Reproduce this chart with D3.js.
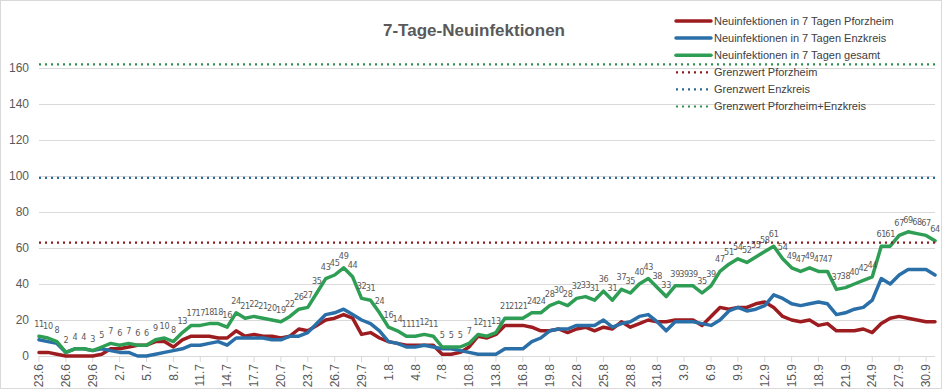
<!DOCTYPE html>
<html>
<head>
<meta charset="utf-8">
<script src="https://cdn.jsdelivr.net/npm/d3@7"></script>
<style>
  body { margin: 0; background: #fff; }
  svg { display: block; }
</style>
</head>
<body>
<div id="chart"></div>
<script>
// Categories: one point per day, 23.6 to 1.10
const days = [
  '23.6','24.6','25.6','26.6','27.6','28.6','29.6','30.6',
  '1.7','2.7','3.7','4.7','5.7','6.7','7.7','8.7','9.7','10.7','11.7','12.7','13.7','14.7','15.7','16.7',
  '17.7','18.7','19.7','20.7','21.7','22.7','23.7','24.7','25.7','26.7','27.7','28.7','29.7','30.7','31.7',
  '1.8','2.8','3.8','4.8','5.8','6.8','7.8','8.8','9.8','10.8','11.8','12.8','13.8','14.8','15.8','16.8',
  '17.8','18.8','19.8','20.8','21.8','22.8','23.8','24.8','25.8','26.8','27.8','28.8','29.8','30.8','31.8',
  '1.9','2.9','3.9','4.9','5.9','6.9','7.9','8.9','9.9','10.9','11.9','12.9','13.9','14.9','15.9','16.9',
  '17.9','18.9','19.9','20.9','21.9','22.9','23.9','24.9','25.9','26.9','27.9','28.9','29.9','30.9',
  '1.10'
];

const pforzheim = [
  2, 2, 1, 0, 0, 0, 0, 1, 4, 4, 5, 6, 6, 8, 8, 5, 9, 11, 11, 11,
  10, 10, 14, 11, 12, 11, 11, 10, 11, 15, 14, 17, 20, 21, 23, 21, 12, 13, 10, 8,
  7, 6, 6, 6, 6, 1, 1, 2, 5, 11, 10, 12, 17, 17, 17, 16, 14, 14, 15, 13,
  15, 16, 14, 16, 15, 19, 16, 18, 20, 19, 19, 20, 20, 20, 17, 22, 27, 26, 27, 27,
  29, 30, 27, 22, 20, 19, 20, 17, 18, 14, 14, 14, 15, 13, 18, 21, 22, 21, 20, 19,
  19
];

const enzkreis = [
  9, 8, 7, 2, 4, 4, 3, 4, 3, 2, 2, 0, 0, 1, 2, 3, 4, 6, 6, 7,
  8, 6, 10, 10, 10, 10, 9, 9, 11, 11, 13, 18, 23, 24, 26, 23, 20, 18, 14, 8,
  7, 5, 5, 6, 5, 4, 4, 3, 2, 1, 1, 1, 4, 4, 4, 8, 10, 14, 15, 15,
  17, 17, 17, 20, 16, 18, 19, 22, 23, 19, 14, 19, 19, 19, 18, 17, 20, 25, 27, 25,
  26, 28, 34, 32, 29, 28, 29, 30, 29, 23, 24, 26, 27, 31, 43, 40, 45, 48, 48, 48,
  45
];

const gesamt = [
  11, 10, 8, 2, 4, 4, 3, 5, 7, 6, 7, 6, 6, 9, 10, 8, 13, 17, 17, 18,
  18, 16, 24, 21, 22, 21, 20, 19, 22, 26, 27, 35, 43, 45, 49, 44, 32, 31, 24, 16,
  14, 11, 11, 12, 11, 5, 5, 5, 7, 12, 11, 13, 21, 21, 21, 24, 24, 28, 30, 28,
  32, 33, 31, 36, 31, 37, 35, 40, 43, 38, 33, 39, 39, 39, 35, 39, 47, 51, 54, 52,
  55, 58, 61, 54, 49, 47, 49, 47, 47, 37, 38, 40, 42, 44, 61, 61, 67, 69, 68, 67,
  64
];

const grenzwertPforzheim = 63;
const grenzwertEnzkreis = 99;
const grenzwertGesamt = 162;

const yTicks = [0, 20, 40, 60, 80, 100, 120, 140, 160];

const W = 942, H = 389;
const margin = { left: 39, right: 7, top: 20, bottom: 33 };

const svg = d3.select('#chart').append('svg')
  .attr('width', W)
  .attr('height', H)
  .style('font-family', "'Liberation Sans', Arial, sans-serif");

svg.append('rect')
  .attr('x', 0.5).attr('y', 0.5)
  .attr('width', W - 1).attr('height', H - 1)
  .attr('fill', '#fff')
  .attr('stroke', '#d9d9d9');

const x = d3.scalePoint()
  .domain(days)
  .range([margin.left, W - margin.right]);

const y = d3.scaleLinear()
  .domain([0, 160])
  .range([356, 68]);

// gridlines + y labels
const grid = svg.append('g');
yTicks.forEach(t => {
  grid.append('line')
    .attr('x1', margin.left).attr('x2', W - margin.right)
    .attr('y1', Math.round(y(t)) + 0.5).attr('y2', Math.round(y(t)) + 0.5)
    .attr('stroke', '#d9d9d9').attr('stroke-width', 1);
  grid.append('text')
    .attr('x', 29)
    .attr('y', y(t))
    .attr('dy', '0.35em')
    .attr('text-anchor', 'end')
    .attr('fill', '#595959')
    .attr('font-size', '12px')
    .text(t);
});

// x axis ticks + rotated labels, every third day
const xAxisG = svg.append('g');
days.forEach((d, i) => {
  if (i % 3 !== 0) return;
  const px = x(d);
  xAxisG.append('line')
    .attr('x1', px).attr('x2', px)
    .attr('y1', 356).attr('y2', 362)
    .attr('stroke', '#d9d9d9');
  xAxisG.append('text')
    .attr('transform', `translate(${px},${364}) rotate(-90)`)
    .attr('dy', '0.35em')
    .attr('text-anchor', 'end')
    .attr('fill', '#595959')
    .attr('font-size', '12px')
    .text(d);
});

const line = d3.line()
  .x((v, i) => x(days[i]))
  .y(v => y(v));

const series = [
  { name: 'Neuinfektionen in 7 Tagen Pforzheim', values: pforzheim, color: '#9c1c1f' },
  { name: 'Neuinfektionen in 7 Tagen Enzkreis', values: enzkreis, color: '#2a6fa8' },
  { name: 'Neuinfektionen in 7 Tagen gesamt', values: gesamt, color: '#2f9e55' }
];

const limits = [
  { name: 'Grenzwert Pforzheim', value: grenzwertPforzheim, color: '#8e1b1e' },
  { name: 'Grenzwert Enzkreis', value: grenzwertEnzkreis, color: '#2a6a96' },
  { name: 'Grenzwert Pforzheim+Enzkreis', value: grenzwertGesamt, color: '#2e9050' }
];

const lineG = svg.append('g');
series.forEach(s => {
  lineG.append('path')
    .attr('d', line(s.values))
    .attr('fill', 'none')
    .attr('stroke', s.color)
    .attr('stroke-width', 3.5)
    .attr('stroke-linejoin', 'round')
    .attr('stroke-linecap', 'round');
});

limits.forEach(l => {
  lineG.append('path')
    .attr('d', line(days.map(() => l.value)))
    .attr('fill', 'none')
    .attr('stroke', l.color)
    .attr('stroke-width', 2.2)
    .attr('stroke-dasharray', '2 4');
});

// data labels on the total line
svg.append('g').selectAll('text')
  .data(gesamt)
  .join('text')
  .attr('x', (v, i) => x(days[i]))
  .attr('y', v => y(v) - 9)
  .attr('text-anchor', 'middle')
  .attr('fill', '#595959')
  .attr('font-size', '9px')
  .attr('letter-spacing', '-0.3px')
  .attr('font-family', "'Liberation Sans Narrow', 'DejaVu Sans Condensed', sans-serif")
  .text(v => v);

// title
svg.append('text')
  .attr('x', 474)
  .attr('y', 36)
  .attr('text-anchor', 'middle')
  .attr('fill', '#595959')
  .attr('font-size', '17px')
  .attr('font-weight', 'bold')
  .text('7-Tage-Neuinfektionen');

// legend
const legend = svg.append('g');
const legendItems = series.map(s => ({ name: s.name, color: s.color, dotted: false }))
  .concat(limits.map(l => ({ name: l.name, color: l.color, dotted: true })));
legendItems.forEach((it, i) => {
  const ly = 21 + i * 17.1;
  legend.append('line')
    .attr('x1', 676).attr('x2', 711)
    .attr('y1', ly).attr('y2', ly)
    .attr('stroke', it.color)
    .attr('stroke-width', it.dotted ? 2.2 : 3.5)
    .attr('stroke-dasharray', it.dotted ? '2 4' : null)
    .attr('stroke-linecap', it.dotted ? 'butt' : 'round');
  legend.append('text')
    .attr('x', 714)
    .attr('y', ly)
    .attr('dy', '0.35em')
    .attr('fill', '#404040')
    .attr('font-size', '11px')
    .text(it.name);
});
</script>
</body>
</html>
